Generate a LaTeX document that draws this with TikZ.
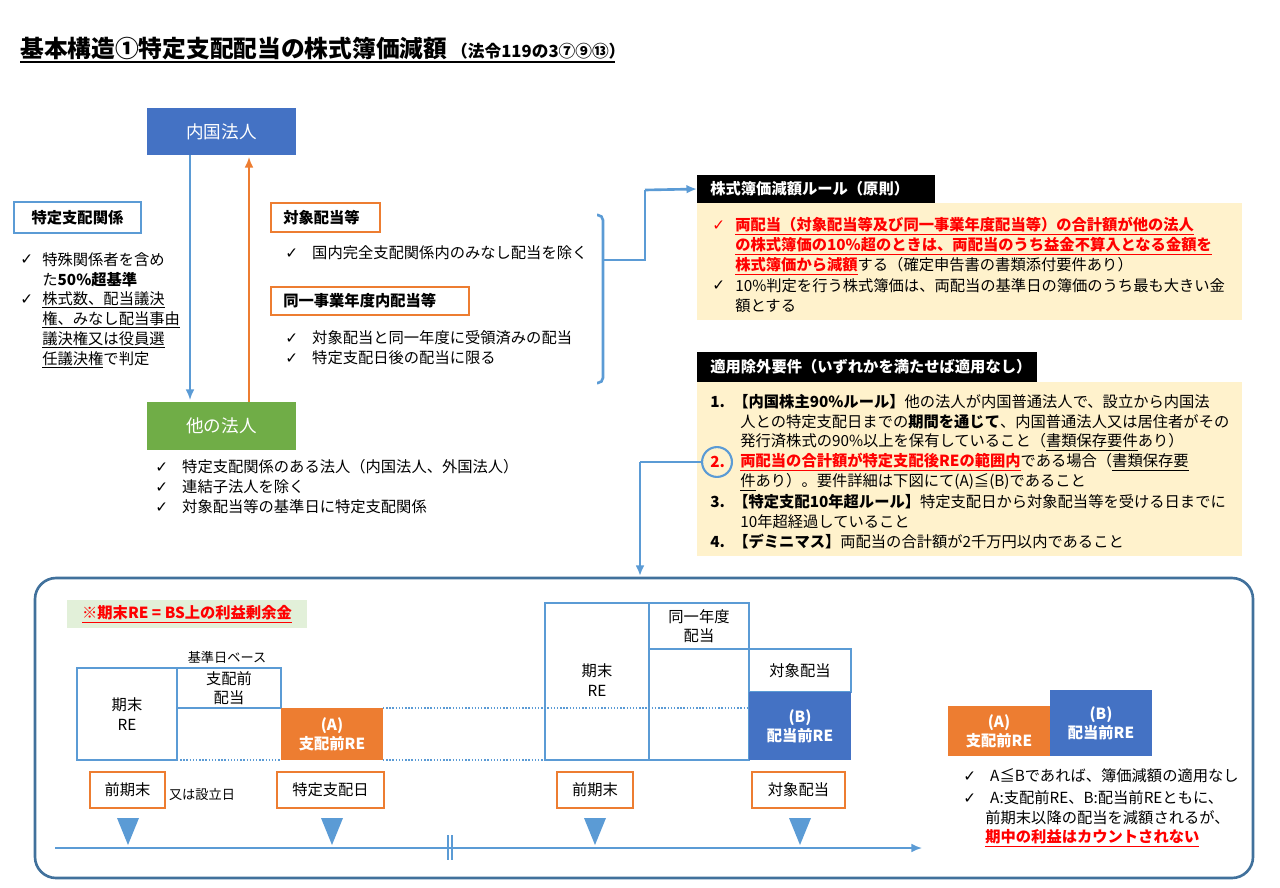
\documentclass[tikz,border=0pt]{standalone}
\usepackage{fontspec}
\setmainfont{Noto Sans CJK JP}
\newfontfamily\sym{DejaVu Sans}
\usetikzlibrary{positioning,arrows.meta}
\definecolor{bleu}{HTML}{4472C4}
\definecolor{vert}{HTML}{70AD47}
\definecolor{orange}{HTML}{ED7D31}
\definecolor{bleuclair}{HTML}{5B9BD5}
\definecolor{jaune}{HTML}{FFF2CC}
\definecolor{vertpale}{HTML}{E2F0D9}
\definecolor{rouge}{HTML}{FF0000}
\definecolor{cadregris}{HTML}{41719C}
\newcommand\chk{{\sym ✓}}
\newcommand\rg[1]{\textcolor{rouge}{\textbf{\underline{#1}}}}
\begin{document}
\begin{tikzpicture}[x=0.02cm,y=-0.02cm,font=\fontsize{8.7}{11}\selectfont]
% Styles
\tikzstyle{cadre}=[draw=bleuclair,line width=1pt]
\tikzstyle{cadreor}=[draw=orange,line width=1pt]
\tikzstyle{fleche}=[-{Latex[length=6pt,width=5pt]},line width=1pt]
\tikzstyle{txt}=[anchor=west,inner sep=0pt]
\tikzstyle{pointille}=[bleuclair,densely dotted,line width=0.8pt]
\tikzstyle{triangle}=[fill=bleuclair,draw=none]
\useasboundingbox (0,0) rectangle (1280,888);
% Titre
\node[txt] (titre) at (20,49) {\fontsize{13.5}{15}\selectfont\textbf{基本構造①特定支配配当の株式簿価減額}\,\fontsize{9.5}{11}\selectfont\textbf{（法令119の3⑦⑨⑬）}};
\draw[line width=0.8pt] (20,62) -- (615,62);
% Entites
\fill[bleu] (147,108) rectangle (296,155);
\node[white] (nai) at (221.5,131.5) {\fontsize{10}{12}\selectfont 内国法人};
\fill[vert] (147,402) rectangle (296,450);
\node[white] (ta) at (221.5,426) {\fontsize{10}{12}\selectfont 他の法人};
\draw[fleche,bleuclair] (190,155) -- (190,400);
\draw[fleche,orange] (249,402) -- (249,157);
% Specifique gauche
\draw[cadre] (14,202) rectangle (141,233);
\node (tsk) at (77.5,217.5) {\textbf{特定支配関係}};
\node[txt] (l1) at (20,260) {\chk};
\node[txt] at (42,260) {特殊関係者を含め};
\node[txt] at (42,280) {た\textbf{50\%超基準}};
\node[txt] (l2) at (20,300) {\chk};
\node[txt] at (42,300) {\underline{株式数、配当議決}};
\node[txt] at (42,320) {\underline{権、みなし配当事由}};
\node[txt] at (42,340) {\underline{議決権又は役員選}};
\node[txt] at (42,360) {\underline{任議決権}で判定};
% Dividendes
\draw[cadreor] (271,203) rectangle (380,232);
\node[txt] (tai) at (283,217.5) {\textbf{対象配当等}};
\node[txt] at (285,253) {\chk\hspace{8pt}国内完全支配関係内のみなし配当を除く};
\draw[cadreor] (271,287) rectangle (469,315);
\node[txt] (doi) at (283,301) {\textbf{同一事業年度内配当等}};
\node[txt] at (285,338) {\chk\hspace{8pt}対象配当と同一年度に受領済みの配当};
\node[txt] at (285,358) {\chk\hspace{8pt}特定支配日後の配当に限る};
\node[txt] at (155,467) {\chk\hspace{8pt}特定支配関係のある法人（内国法人、外国法人）};
\node[txt] at (155,487) {\chk\hspace{8pt}連結子法人を除く};
\node[txt] at (155,507) {\chk\hspace{8pt}対象配当等の基準日に特定支配関係};
% Accolade
\draw[bleuclair,line width=1.5pt,rounded corners=3pt] (597,215) -- (603,215) -- (603,383) -- (597,383);
\coordinate (acc) at (603,260);
\coordinate (coin1) at (645,260);
\coordinate (coin2) at (645,190);
\draw[bleuclair,line width=1.5pt] (acc) -- (coin1) -- (coin2);
% Regle
\fill[black] (697,175) rectangle (935,203);
\node[txt,white] (regle) at (710,189) {\textbf{株式簿価減額ルール（原則）}};
\draw[fleche,bleuclair,line width=1.5pt] (coin2) -- (regle.west -| 697,0);
\fill[jaune] (697,203) rectangle (1242,320);
\node[txt] at (712,226) {\textcolor{rouge}{\chk}};
\node[txt] at (735,226) {\rg{両配当（対象配当等及び同一事業年度配当等）の合計額が他の法人}};
\node[txt] at (735,246) {\rg{の株式簿価の10\%超のときは、両配当のうち益金不算入となる金額を}};
\node[txt] at (735,266) {\rg{株式簿価から減額}する（確定申告書の書類添付要件あり）};
\node[txt] at (712,286) {\chk};
\node[txt] at (735,286) {10\%判定を行う株式簿価は、両配当の基準日の簿価のうち最も大きい金};
\node[txt] at (735,306) {額とする};
% Exclusions
\fill[black] (697,352) rectangle (1037,382);
\node[txt,white] (excl) at (710,367) {\textbf{適用除外要件（いずれかを満たせば適用なし）}};
\fill[jaune] (697,382) rectangle (1242,556);
\node[txt] at (710,402) {\textbf{1.}};
\node[txt] at (733,402) {\textbf{【内国株主90\%ルール】}他の法人が内国普通法人で、設立から内国法};
\node[txt] at (740,422) {人との特定支配日までの\textbf{期間を通じて}、内国普通法人又は居住者がその};
\node[txt] at (740,442) {発行済株式の90\%以上を保有していること（\underline{書類保存要件}あり）};
\node[txt] (n2) at (710,462) {\textcolor{rouge}{\textbf{2.}}};
\node[txt] at (740,462) {\rg{両配当の合計額が特定支配後REの範囲内}である場合（\underline{書類保存要}};
\node[txt] at (740,482) {\underline{件}あり）。要件詳細は下図にて(A)≦(B)であること};
\node[txt] at (710,502) {\textbf{3.}};
\node[txt] at (733,502) {\textbf{【特定支配10年超ルール】}特定支配日から対象配当等を受ける日までに};
\node[txt] at (740,522) {10年超経過していること};
\node[txt] at (710,542) {\textbf{4.}};
\node[txt] at (733,542) {\textbf{【デミニマス】}両配当の合計額が2千万円以内であること};
\node[circle,draw=bleuclair,line width=1.2pt,minimum size=17pt,inner sep=0pt] (cercle) at (717,462) {};
\coordinate (coin3) at (640,462);
\coordinate (bas) at (640,576);
\draw[bleuclair,line width=1.5pt] (cercle.west) -- (coin3);
\draw[fleche,bleuclair,line width=1.5pt] (coin3) -- (bas);
% Cadre du bas
\draw[cadregris,line width=1.5pt,rounded corners=12pt] (35,578) rectangle (1253,878);
\fill[vertpale] (67,600) rectangle (307,628);
\node (note) at (187,614) {\rg{※期末RE = BS上の利益剰余金}};
% Gauche
\draw[cadre,fill=white] (77,668) rectangle (177,760);
\node[align=center] (re1) at (127,714) {期末\\RE};
\draw[cadre] (177,668) rectangle (281,708);
\node[align=center] (shp) at (229,688) {支配前\\配当};
\node (kj) at (227,657) {\fontsize{7.5}{9}\selectfont 基準日ベース};
\draw[pointille] (177,760) -- (281,760);
\fill[orange] (281,708) rectangle (383,760);
\node[white,align=center] (A) at (332,734) {\textbf{(A)}\\\textbf{支配前RE}};
\draw[pointille] (383,708) -- (749,708);
\draw[pointille] (383,760) -- (749,760);
% Droite
\draw[cadre] (545,603) rectangle (649,760);
\node[align=center] (re2) at (597,680) {期末\\RE};
\draw[cadre] (649,603) rectangle (749,649);
\node[align=center] (dnd) at (699,626) {同一年度\\配当};
\draw[cadre] (649,649) rectangle (749,760);
\draw[cadre] (749,649) rectangle (851,692);
\node (tsh) at (800,671) {対象配当};
\fill[bleu] (749,692) rectangle (851,760);
\node[white,align=center] (B) at (800,726) {\textbf{(B)}\\\textbf{配当前RE}};
% Dates
\foreach \xa/\xb/\t/\n in {90/165/前期末/d1,277/384/特定支配日/d2,557/633/前期末/d3,752/845/対象配当/d4}{
  \draw[cadreor,fill=white] (\xa,772) rectangle (\xb,808);
  \node (\n) at ({(\xa+\xb)/2},790) {\t};
}
\node (setsu) at (202,795) {\fontsize{7.5}{9}\selectfont 又は設立日};
\foreach \x in {128,332,595,800}{
  \fill[triangle] (\x-11,818) -- (\x+11,818) -- (\x,845) -- cycle;
}
\coordinate (t0) at (55,848);
\coordinate (t1) at (922,848);
\draw[fleche,bleuclair] (t0) -- (t1);
\draw[bleuclair,line width=0.8pt] (448,835) -- (448,860) (452,835) -- (452,860);
% Comparaison
\fill[orange] (948,706) rectangle (1050,756);
\node[white,align=center] (A2) at (999,731) {\textbf{(A)}\\\textbf{支配前RE}};
\fill[bleu] (1050,690) rectangle (1152,756);
\node[white,align=center] (B2) at (1101,723) {\textbf{(B)}\\\textbf{配当前RE}};
\node[txt] at (963,776) {\chk\hspace{8pt}A≦Bであれば、簿価減額の適用なし};
\node[txt] at (963,798) {\chk\hspace{8pt}A:支配前RE、B:配当前REともに、};
\node[txt] at (985,818) {前期末以降の配当を減額されるが、};
\node[txt] at (985,838) {\rg{期中の利益はカウントされない}};
\end{tikzpicture}
\end{document}
